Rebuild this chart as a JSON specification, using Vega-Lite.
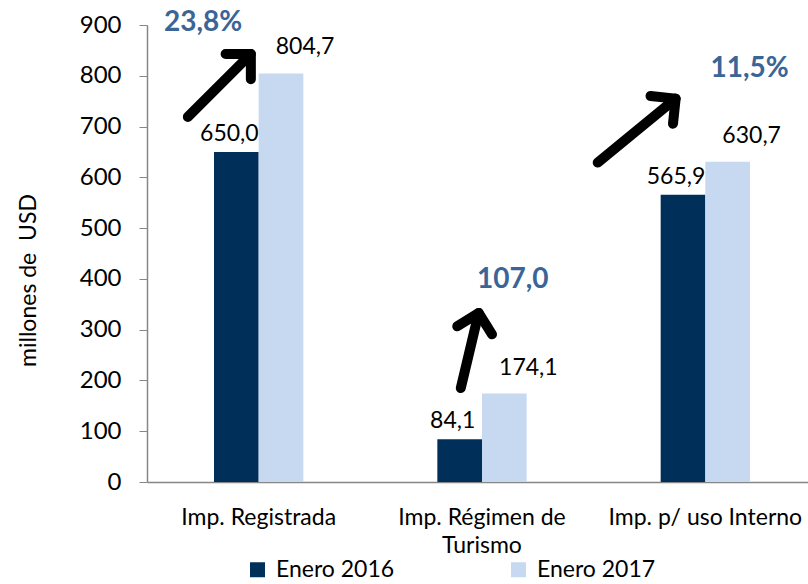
{
  "$schema": "https://vega.github.io/schema/vega-lite/v6.json",
  "width": 661,
  "height": 457,
  "autosize": {"type": "none"},
  "padding": {"left": 147, "top": 25, "right": 0, "bottom": 102},
  "background": "white",
  "config": {
    "view": {"stroke": null},
    "font": "Lato",
    "locale": {"number": {"decimal": ",", "thousands": ".", "grouping": [3], "currency": ["$", ""]}}
  },
  "datasets": {
    "bars": [
      {"cat": "Imp. Registrada", "serie": "Enero 2016", "value": 650.0},
      {"cat": "Imp. Registrada", "serie": "Enero 2017", "value": 804.7},
      {"cat": "Imp. Régimen de Turismo", "serie": "Enero 2016", "value": 84.1},
      {"cat": "Imp. Régimen de Turismo", "serie": "Enero 2017", "value": 174.1},
      {"cat": "Imp. p/ uso Interno", "serie": "Enero 2016", "value": 565.9},
      {"cat": "Imp. p/ uso Interno", "serie": "Enero 2017", "value": 630.7}
    ],
    "arrows": [
      {"tx": 0.183, "ty": 719, "hx": 0.465, "hy": 843, "angle": 45},
      {"tx": 1.405, "ty": 185, "hx": 1.485, "hy": 333, "angle": 13},
      {"tx": 2.018, "ty": 629, "hx": 2.367, "hy": 755, "angle": 51}
    ],
    "pct": [
      {"px": 0.251, "py": 904, "label": "23,8%"},
      {"px": 1.638, "py": 398, "label": "107,0"},
      {"px": 2.698, "py": 814, "label": "11,5%"}
    ]
  },
  "layer": [
    {
      "data": {"name": "bars"},
      "encoding": {
        "x": {
          "field": "cat", "type": "nominal", "sort": null,
          "scale": {"range": [0, 670], "paddingInner": 0.6, "paddingOuter": 0.3},
          "axis": {
            "title": null, "labelFontSize": 23, "labelColor": "black", "ticks": false, "tickSize": 0,
            "domainColor": "#868686", "domainWidth": 1.5, "labelPadding": 42, "labelAngle": 0,
            "labelLineHeight": 28, "labelLimit": 400, "labelBaseline": "alphabetic",
            "labelExpr": "datum.label == 'Imp. Régimen de Turismo' ? ['Imp. Régimen de', 'Turismo'] : datum.label"
          }
        },
        "xOffset": {"field": "serie", "type": "nominal"},
        "y": {
          "field": "value", "type": "quantitative",
          "scale": {"domain": [0, 900], "nice": false},
          "axis": {
            "values": [0, 100, 200, 300, 400, 500, 600, 700, 800, 900],
            "grid": false, "labelFontSize": 24, "labelColor": "black",
            "tickSize": 8, "tickColor": "#868686", "domainColor": "#868686", "domainWidth": 1.5,
            "labelPadding": 18, "title": "millones de\u00a0 USD", "titleFontSize": 23,
            "titleFontWeight": "normal", "titleColor": "black", "titleX": -112, "titleY": 255,
            "titleBaseline": "alphabetic", "titleAngle": -90
          }
        }
      },
      "layer": [
        {
          "mark": {"type": "bar"},
          "encoding": {
            "color": {
              "field": "serie", "type": "nominal",
              "scale": {"domain": ["Enero 2016", "Enero 2017"], "range": ["#00305a", "#c6d9f1"]},
              "legend": {
                "orient": "none", "legendX": 99, "legendY": 533, "direction": "horizontal",
                "title": null, "symbolType": "square", "symbolSize": 225, "symbolStrokeWidth": 0,
                "labelFontSize": 23, "labelColor": "black", "labelOffset": 7, "columnPadding": 112
              }
            }
          }
        },
        {
          "transform": [{"filter": "datum.serie == 'Enero 2016'"}],
          "mark": {"type": "text", "fontSize": 23, "color": "black", "baseline": "alphabetic", "dx": -7, "dy": -11},
          "encoding": {"text": {"field": "value", "type": "quantitative", "format": ".1f"}}
        },
        {
          "transform": [{"filter": "datum.serie == 'Enero 2017'"}],
          "mark": {"type": "text", "fontSize": 23, "color": "black", "baseline": "alphabetic", "dx": 24, "dy": -19},
          "encoding": {"text": {"field": "value", "type": "quantitative", "format": ".1f"}}
        }
      ]
    },
    {
      "layer": [
        {
          "data": {"name": "arrows"},
          "mark": {"type": "rule", "color": "black", "strokeWidth": 10, "strokeCap": "round"},
          "encoding": {
            "x": {"field": "tx", "type": "quantitative", "scale": {"domain": [0, 3], "range": [0, 670], "nice": false, "zero": false}, "axis": null},
            "x2": {"field": "hx"},
            "y": {"field": "ty", "type": "quantitative", "axis": {"title": "millones de\u00a0 USD"}},
            "y2": {"field": "hy"}
          }
        },
        {
          "data": {"name": "arrows"},
          "mark": {"type": "point", "shape": "M-0.7,0.7L0,0L0.7,0.7", "filled": false, "stroke": "black", "strokeWidth": 10, "strokeJoin": "round", "strokeCap": "round", "size": 2600, "opacity": 1},
          "encoding": {
            "x": {"field": "hx", "type": "quantitative", "axis": null},
            "y": {"field": "hy", "type": "quantitative", "axis": {"title": "millones de\u00a0 USD"}},
            "angle": {"field": "angle", "type": "quantitative", "scale": null}
          }
        },
        {
          "data": {"name": "pct"},
          "mark": {"type": "text", "fontSize": 28, "fontWeight": "bold", "color": "#3b6497", "baseline": "middle"},
          "encoding": {
            "x": {"field": "px", "type": "quantitative", "axis": null},
            "y": {"field": "py", "type": "quantitative", "axis": {"title": "millones de\u00a0 USD"}},
            "text": {"field": "label", "type": "nominal"}
          }
        }
      ]
    }
  ],
  "resolve": {"scale": {"x": "independent"}, "axis": {"x": "independent"}}
}
